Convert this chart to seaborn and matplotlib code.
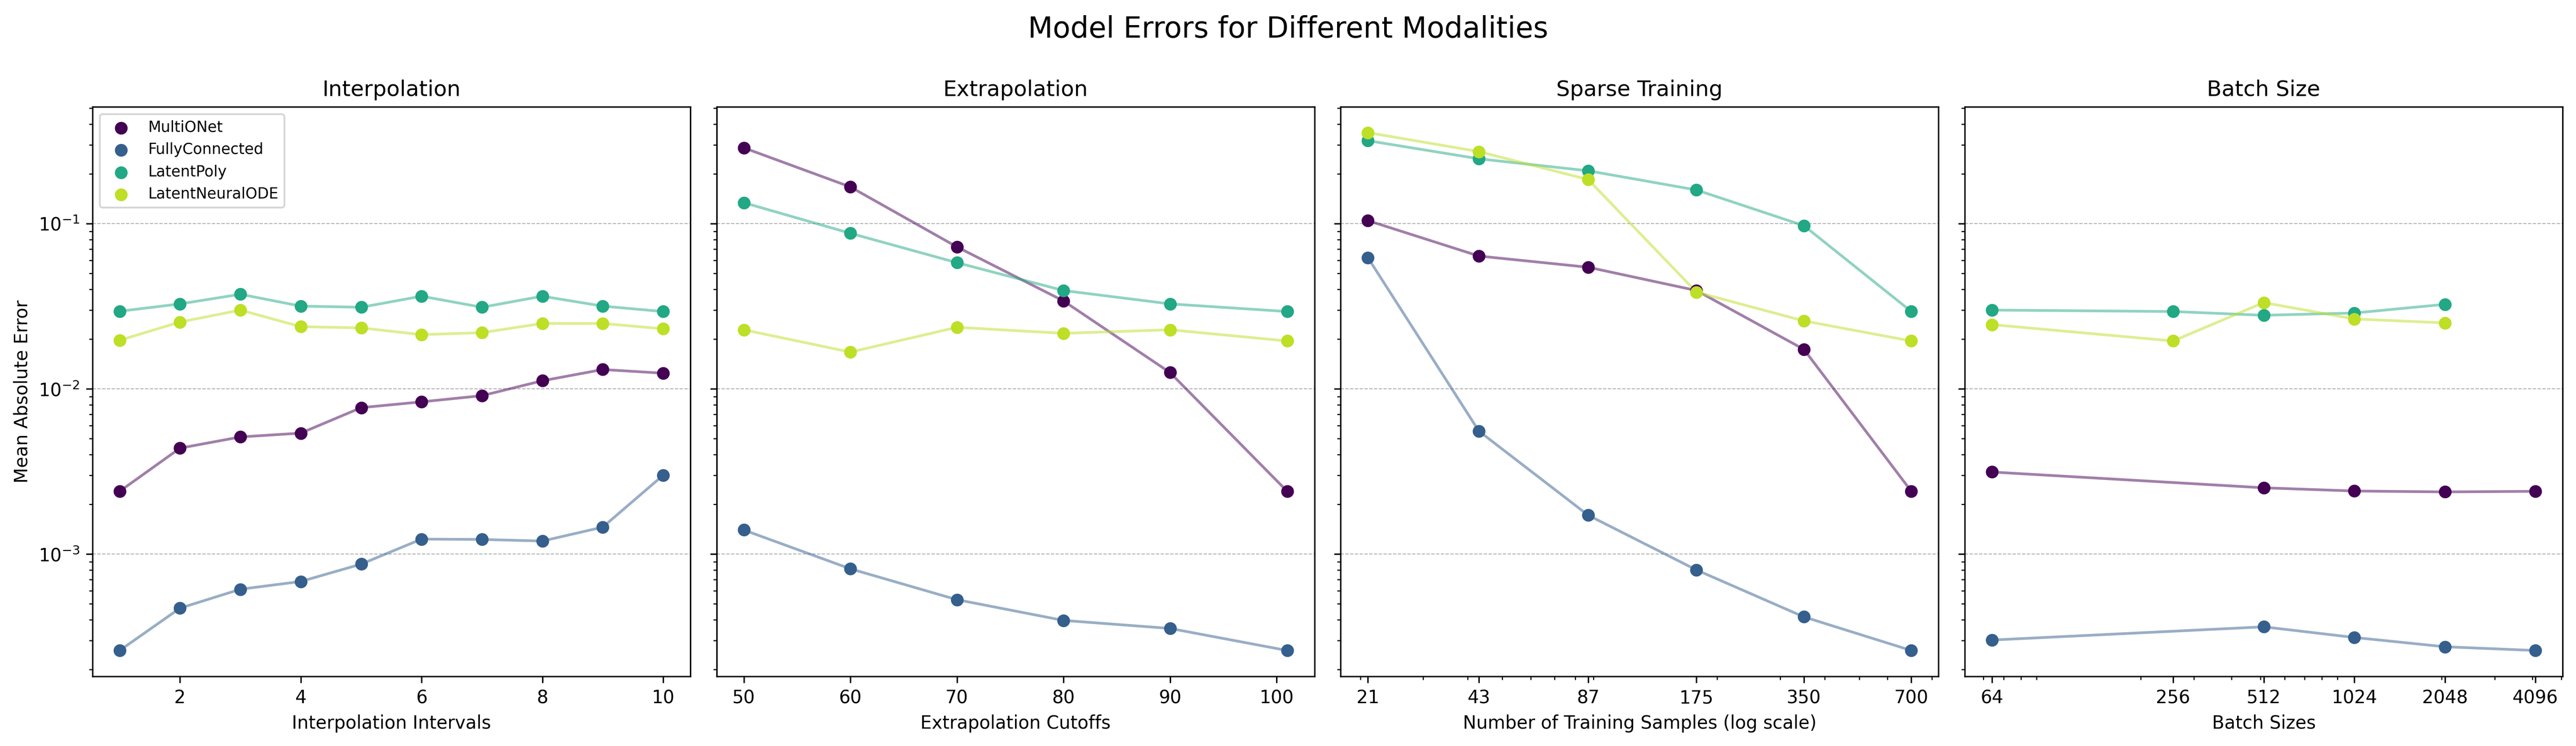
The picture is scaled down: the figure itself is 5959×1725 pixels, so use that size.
import numpy as np
import matplotlib
matplotlib.use("Agg")
import matplotlib.pyplot as plt
from matplotlib.ticker import NullFormatter
import seaborn as sns

models = ["MultiONet", "FullyConnected", "LatentPoly", "LatentNeuralODE"]

# Interpolation
interp_x = [1, 2, 3, 4, 5, 6, 7, 8, 9, 10]
interp_multionet = [0.0024, 0.00438, 0.00512, 0.0054, 0.0077, 0.00835, 0.0091, 0.0112, 0.0131, 0.01245]
interp_fc = [2.61e-4, 4.71e-4, 6.13e-4, 6.83e-4, 8.7e-4, 1.233e-3, 1.227e-3, 1.2e-3, 1.456e-3, 3.0e-3]
interp_poly = [0.0295, 0.0327, 0.0374, 0.0317, 0.0312, 0.0364, 0.0312, 0.0364, 0.0317, 0.0294]
interp_node = [0.0197, 0.0254, 0.0300, 0.0238, 0.0234, 0.0213, 0.0219, 0.0249, 0.0249, 0.0231]

# Extrapolation
extra_x = [50, 60, 70, 80, 90, 101]
extra_multionet = [0.288, 0.167, 0.0724, 0.0341, 0.01256, 0.0024]
extra_fc = [1.40e-3, 8.15e-4, 5.3e-4, 3.97e-4, 3.55e-4, 2.61e-4]
extra_poly = [0.134, 0.0875, 0.0581, 0.0394, 0.0327, 0.0294]
extra_node = [0.0228, 0.0167, 0.0236, 0.0217, 0.0228, 0.0195]

# Sparse training
sparse_x = [21, 43, 87, 175, 350, 700]
sparse_multionet = [0.1044, 0.0637, 0.0545, 0.0394, 0.01735, 0.0024]
sparse_fc = [0.0623, 0.00555, 0.00172, 8.02e-4, 4.17e-4, 2.61e-4]
sparse_poly = [0.318, 0.247, 0.209, 0.160, 0.0973, 0.0294]
sparse_node = [0.356, 0.273, 0.185, 0.0385, 0.0258, 0.0195]

# Batch size (NaN = not run)
batch_x = [64, 256, 512, 1024, 2048, 4096]
batch_multionet = [0.00314, np.nan, 0.00252, 0.00241, 0.00238, 0.0024]
batch_fc = [3.02e-4, np.nan, 3.63e-4, 3.13e-4, 2.75e-4, 2.61e-4]
batch_poly = [0.0300, 0.0294, 0.0279, 0.0288, 0.0325, np.nan]
batch_node = [0.0245, 0.0195, 0.0333, 0.0265, 0.0251, np.nan]

panels = [
    ("Interpolation", "Interpolation Intervals", interp_x,
     [interp_multionet, interp_fc, interp_poly, interp_node], False),
    ("Extrapolation", "Extrapolation Cutoffs", extra_x,
     [extra_multionet, extra_fc, extra_poly, extra_node], False),
    ("Sparse Training", "Number of Training Samples (log scale)", sparse_x,
     [sparse_multionet, sparse_fc, sparse_poly, sparse_node], True),
    ("Batch Size", "Batch Sizes", batch_x,
     [batch_multionet, batch_fc, batch_poly, batch_node], True),
]

colors = plt.cm.viridis(np.linspace(0, 0.9, len(models)))

fig, axes = plt.subplots(1, 4, figsize=(5959 / 300, 1725 / 300), dpi=300, sharey=True)

for ax, (title, xlabel, xs, series, logx) in zip(axes, panels):
    for name, vals, c in zip(models, series, colors):
        x = np.array(xs, dtype=float)
        y = np.array(vals, dtype=float)
        keep = ~np.isnan(y)
        sns.lineplot(x=x[keep], y=y[keep], color=c, alpha=0.5, linewidth=1.5, ax=ax)
        sns.scatterplot(x=x[keep], y=y[keep], color=c, s=50, linewidth=0, label=name, ax=ax, zorder=3)
    ax.set_yscale("log")
    if logx:
        ax.set_xscale("log")
        ax.set_xticks(xs, [str(v) for v in xs])
        ax.xaxis.set_minor_formatter(NullFormatter())
    ax.set_title(title, fontsize=12)
    ax.set_xlabel(xlabel, fontsize=10)
    ax.grid(True, which="major", axis="y", linestyle="--", linewidth=0.5, color="#b0b0b0")
    ax.legend().remove()

axes[0].set_ylabel("Mean Absolute Error", fontsize=10)
axes[0].legend(loc="upper left", fontsize="small")

fig.suptitle("Model Errors for Different Modalities", fontsize=16)
plt.subplots_adjust(left=0.0359, right=0.9948, top=0.857, bottom=0.0933, wspace=0.044)
plt.savefig("out.png", dpi=300)
